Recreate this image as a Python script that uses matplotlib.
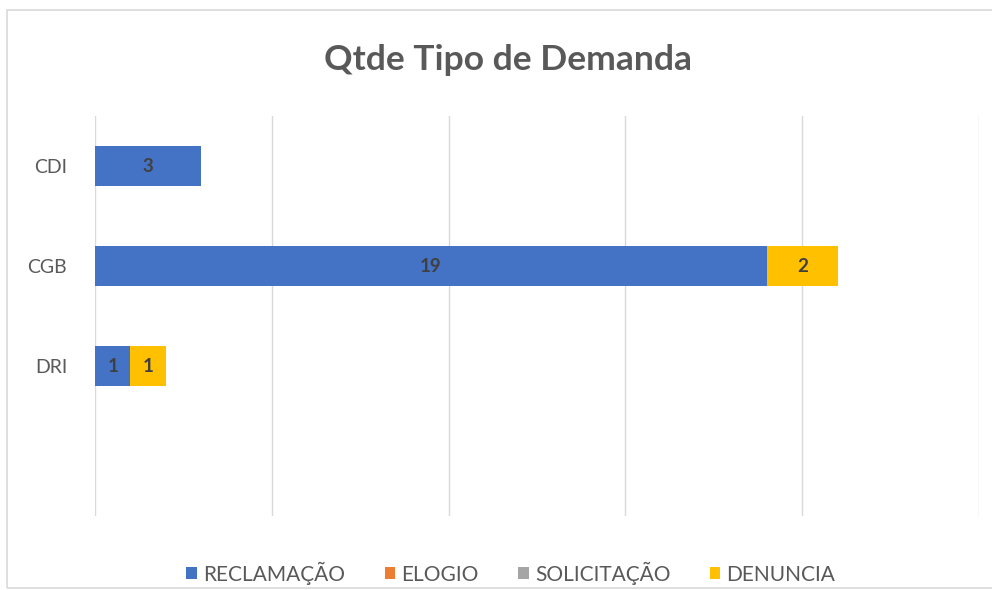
import matplotlib.pyplot as plt
from matplotlib.patches import Rectangle

plt.rcParams['font.family'] = ['Lato', 'DejaVu Sans']

# data
categorias = ['CDI', 'CGB', 'DRI', '']
reclamacao = [3, 19, 1, 0]
elogio = [0, 0, 0, 0]
solicitacao = [0, 0, 0, 0]
denuncia = [0, 2, 1, 0]

series = [('RECLAMAÇÃO', reclamacao, '#4472C4'),
          ('ELOGIO', elogio, '#ED7D31'),
          ('SOLICITAÇÃO', solicitacao, '#A5A5A5'),
          ('DENUNCIA', denuncia, '#FFC000')]

fig = plt.figure(figsize=(9.92, 5.9), dpi=100)
ax = fig.add_axes([95/992, 1 - 516/590, (979 - 95)/992, (516 - 116)/590])

# light frame around the chart area
fig.patches.append(Rectangle((7/992, 1 - 588/590), 1.2, 578/590, transform=fig.transFigure,
                             fill=False, edgecolor='#D9D9D9', linewidth=1.2))

y = range(len(categorias))
left = [0]*len(categorias)
for nome, vals, cor in series:
    bars = ax.barh(y, vals, left=left, height=0.4, color=cor, label=nome)
    for b, v in zip(bars, vals):
        if v > 0:
            ax.text(b.get_x() + b.get_width()/2, b.get_y() + b.get_height()/2, str(v),
                    ha='center', va='center', fontsize=13.5, fontweight='bold', color='#404040')
    left = [l + v for l, v in zip(left, vals)]

ax.set_xlim(0, 25)
ax.set_ylim(3.5, -0.5)
ax.set_xticks(range(0, 26, 5))
ax.set_xticklabels([])
ax.set_yticks(list(y))
ax.set_yticklabels(categorias, fontsize=14, color='#595959')
ax.tick_params(length=0, pad=20)
ax.grid(axis='x', color='#D9D9D9', linewidth=1)
ax.set_axisbelow(True)
for s in ax.spines.values():
    s.set_visible(False)

fig.text(0.512, 1 - 60/590, 'Qtde Tipo de Demanda', ha='center', va='center',
         fontsize=25.5, fontweight='bold', color='#595959')

fig.legend(loc='center', bbox_to_anchor=(0.515, 1 - 573/590), ncol=4, frameon=False,
           fontsize=15, handlelength=0.5, handleheight=0.5, handletextpad=0.3,
           columnspacing=1.9, labelcolor='#595959')

fig.savefig('out.png', dpi=100)
